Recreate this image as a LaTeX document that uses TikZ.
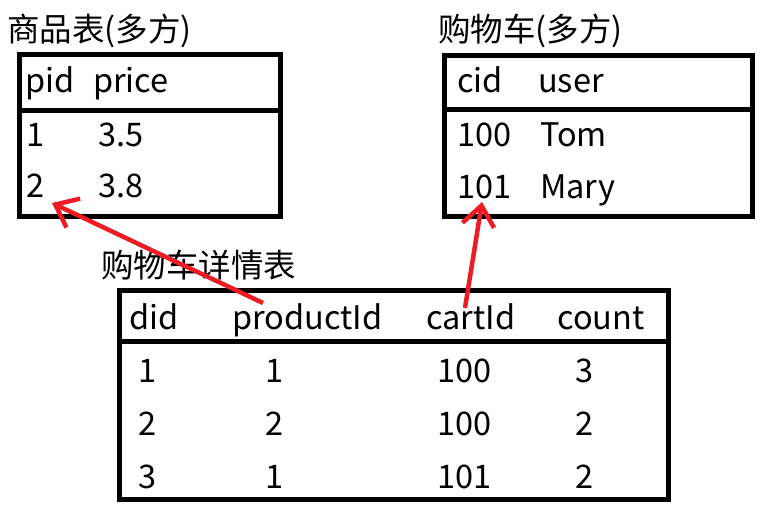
\documentclass[tikz,border=0pt]{standalone}
\usepackage{fontspec}
\setmainfont{Noto Sans CJK SC}
\usetikzlibrary{arrows.meta}
\definecolor{linkred}{RGB}{237,28,36}
\tikzset{tbl/.style={black,line width=5pt},
         cell/.style={anchor=base west,inner sep=0pt,font=\fontsize{32.5}{38}\selectfont},
         link/.style={linkred,line width=4.5pt,-{Straight Barb[length=20pt,width=32pt]}}}

\begin{document}
\begin{tikzpicture}[x=1pt,y=-1pt]
   \useasboundingbox (0,0) rectangle (761,507);
   % goods table
   \node[cell] (goodsT) at (7,41) {商品表(多方)};
   \draw[tbl] (19.5,54.5) rectangle (280,216);
   \draw[tbl] (19.5,110) -- (280,110);
   \node[cell] (g-pid)   at (25,92)  {pid};
   \node[cell] (g-price) at (93,92)  {price};
   \node[cell] (g-id1)   at (26,146) {1};
   \node[cell] (g-pr1)   at (98,146) {3.5};
   \node[cell] (g-id2)   at (26,197) {2};
   \node[cell] (g-pr2)   at (98,197) {3.8};
   % cart table
   \node[cell] (cartT) at (438,41) {购物车(多方)};
   \draw[tbl] (444.5,55.5) rectangle (752,216);
   \draw[tbl] (444.5,109.5) -- (752,109.5);
   \node[cell] (c-cid)  at (457,92)  {cid};
   \node[cell] (c-user) at (538,92)  {user};
   \node[cell] (c-id1)  at (457,146) {100};
   \node[cell] (c-u1)   at (540,146) {Tom};
   \node[cell] (c-id2)  at (457,198) {101};
   \node[cell] (c-u2)   at (540,198) {Mary};
   % detail table
   \node[cell] (detT) at (101,277) {购物车详情表};
   \draw[tbl] (119.5,290) rectangle (668,499.5);
   \draw[tbl] (119.5,341.5) -- (668,341.5);
   \node[cell] (d-did)   at (129,329) {did};
   \node[cell] (d-prod)  at (232,329) {productId};
   \node[cell] (d-cart)  at (426,329) {cartId};
   \node[cell] (d-count) at (557,329) {count};
   \foreach \r/\y/\a/\b/\c/\d in {1/382/1/1/100/3, 2/435/2/2/100/2, 3/488/3/1/101/2} {
     \node[cell] (d-a\r) at (138,\y) {\a};
     \node[cell] (d-b\r) at (265,\y) {\b};
     \node[cell] (d-c\r) at (437,\y) {\c};
     \node[cell] (d-d\r) at (575,\y) {\d};
   }
   % links
   \coordinate (prodTail) at (263,303);
   \coordinate (prodTip)  at (52,203);
   \coordinate (cartTail) at (465,308);
   \coordinate (cartTip)  at (482,202);
   \draw[link] (prodTail) -- (prodTip);
   \draw[link] (cartTail) -- (cartTip);
\end{tikzpicture}
\end{document}
